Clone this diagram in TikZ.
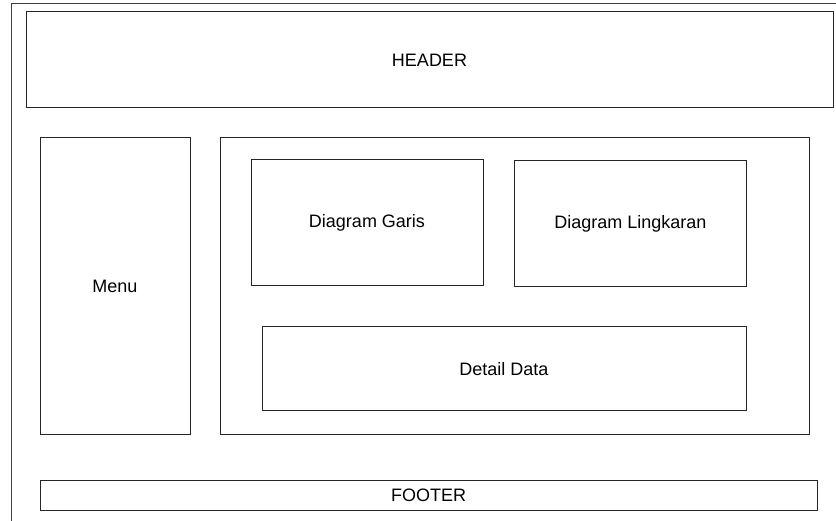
\documentclass[tikz,border=0pt]{standalone}
\usepackage{fontspec}
\setmainfont{Liberation Sans}
\begin{document}
\begin{tikzpicture}[x=1pt,y=-1pt,
  box/.style={draw=black!85,line width=1pt,rectangle,inner sep=0pt,font=\fontsize{18}{20}\selectfont}]
\useasboundingbox (0,0) rectangle (836,521);
\draw[black!75,line width=1pt] (11,521) -- (11,4) -- (836,4);
\node[box,minimum width=807pt,minimum height=96pt] (header) at (429.5,60) {HEADER};
\node[box,minimum width=150pt,minimum height=297pt] (menu) at (115,286.5) {Menu};
\node[box,minimum width=589pt,minimum height=297pt] (main) at (514.5,286.5) {};
\node[box,minimum width=232pt,minimum height=126pt] (garis) at (367,222.5) {Diagram Garis};
\node[box,minimum width=232pt,minimum height=126pt] (lingkaran) at (630.5,224) {Diagram Lingkaran};
\node[box,minimum width=484pt,minimum height=84pt] (detail) at (504,369) {Detail Data};
\node[box,minimum width=777pt,minimum height=30pt] (footer) at (428.5,495) {FOOTER};
\end{tikzpicture}
\end{document}
